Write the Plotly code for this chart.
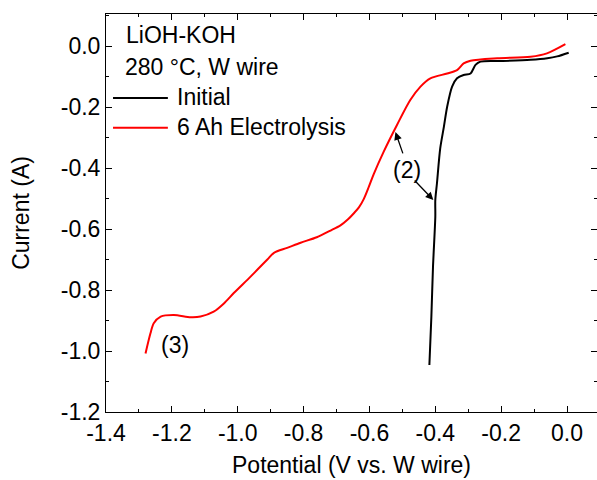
import plotly.graph_objects as go

# ---- data ----
initial_x = [-0.418, -0.412, -0.407, -0.400, -0.400, -0.395, -0.385, -0.374, -0.364,
             -0.349, -0.334, -0.314, -0.293, -0.278, -0.263, -0.200, -0.111, -0.060,
             -0.030, 0.005]
initial_y = [-1.046, -0.888, -0.724, -0.560, -0.505, -0.450, -0.335, -0.265, -0.199,
             -0.133, -0.106, -0.095, -0.090, -0.062, -0.051, -0.049, -0.045, -0.040,
             -0.034, -0.022]

electro_x = [-1.280, -1.265, -1.255, -1.234, -1.194, -1.143, -1.113, -1.073, -1.042,
             -1.012, -0.961, -0.910, -0.890, -0.850, -0.809, -0.760, -0.718, -0.688,
             -0.665, -0.648, -0.632, -0.617, -0.602, -0.587, -0.557, -0.516,
             -0.476, -0.445, -0.415, -0.364, -0.334, -0.314, -0.293, -0.212, -0.111,
             -0.061, -0.005]
electro_y = [-1.008, -0.942, -0.909, -0.887, -0.882, -0.889, -0.887, -0.871, -0.844,
             -0.810, -0.756, -0.700, -0.678, -0.662, -0.645, -0.627, -0.605, -0.588,
             -0.568, -0.549, -0.529, -0.501, -0.462, -0.420, -0.347, -0.258,
             -0.177, -0.133, -0.106, -0.090, -0.079, -0.057, -0.048, -0.040, -0.035,
             -0.024, 0.006]

x_tickvals = [-1.4, -1.2, -1.0, -0.8, -0.6, -0.4, -0.2, 0.0]
x_ticktext = ["-1.4", "-1.2", "-1.0", "-0.8", "-0.6", "-0.4", "-0.2", "0.0"]
y_tickvals = [-1.2, -1.0, -0.8, -0.6, -0.4, -0.2, 0.0]
y_ticktext = ["-1.2", "-1.0", "-0.8", "-0.6", "-0.4", "-0.2", "0.0"]

series_names = ["Initial", "6 Ah Electrolysis"]
series_colors = ["#000000", "#ff0000"]

FONT = "Liberation Sans, Arial, sans-serif"
FS = 23

fig = go.Figure()
fig.add_trace(go.Scatter(x=initial_x, y=initial_y, mode="lines", name=series_names[0],
                         line=dict(color=series_colors[0], width=2, shape="spline", smoothing=0.8)))
fig.add_trace(go.Scatter(x=electro_x, y=electro_y, mode="lines", name=series_names[1],
                         line=dict(color=series_colors[1], width=2, shape="spline", smoothing=0.8)))

axis_common = dict(
    showline=True, linecolor="black", linewidth=1, mirror="allticks",
    ticks="inside", ticklen=6, tickwidth=1, tickcolor="black",
    showgrid=False, zeroline=False,
    tickfont=dict(family=FONT, size=FS, color="black"),
    minor=dict(ticks="inside", ticklen=3, tickwidth=1, tickcolor="black", dtick=0.1, showgrid=False),
)

fig.update_xaxes(range=[-1.4, 0.091], tickmode="array", tickvals=x_tickvals, ticktext=x_ticktext,
                 title=dict(text="Potential (V vs. W wire)", font=dict(family=FONT, size=FS, color="black"),
                            standoff=12),
                 **axis_common)
fig.update_yaxes(range=[-1.2, 0.105], tickmode="array", tickvals=y_tickvals, ticktext=y_ticktext,
                 title=dict(text="Current (A)", font=dict(family=FONT, size=FS, color="black"),
                            standoff=24),
                 **axis_common)

# legend-like block (paper coords)
annots = [
    dict(text="LiOH-KOH", x=0.037, y=0.947, xref="paper", yref="paper", xanchor="left", yanchor="middle",
         showarrow=False, font=dict(family=FONT, size=FS, color="black")),
    dict(text="280 °C, W wire", x=0.035, y=0.866, xref="paper", yref="paper", xanchor="left", yanchor="middle",
         showarrow=False, font=dict(family=FONT, size=FS, color="black")),
    dict(text=series_names[0], x=0.141, y=0.791, xref="paper", yref="paper", xanchor="left", yanchor="middle",
         showarrow=False, font=dict(family=FONT, size=FS, color="black")),
    dict(text=series_names[1], x=0.141, y=0.716, xref="paper", yref="paper", xanchor="left", yanchor="middle",
         showarrow=False, font=dict(family=FONT, size=FS, color="black")),
    # (2) label and arrows
    dict(text="(2)", x=-0.485, y=-0.407, xref="x", yref="y", showarrow=False,
         font=dict(family=FONT, size=FS, color="black")),
    dict(text="", x=-0.521, y=-0.282, ax=-0.497, ay=-0.357, xref="x", yref="y", axref="x", ayref="y",
         showarrow=True, arrowhead=2, arrowsize=1.2, arrowwidth=1.3, arrowcolor="black"),
    dict(text="", x=-0.406, y=-0.505, ax=-0.467, ay=-0.436, xref="x", yref="y", axref="x", ayref="y",
         showarrow=True, arrowhead=2, arrowsize=1.2, arrowwidth=1.3, arrowcolor="black"),
    dict(text="(3)", x=-1.189, y=-0.980, xref="x", yref="y", showarrow=False,
         font=dict(family=FONT, size=FS, color="black")),
]

shapes = [
    dict(type="line", xref="paper", yref="paper", x0=0.0143, x1=0.126, y0=0.789, y1=0.789,
         line=dict(color=series_colors[0], width=2)),
    dict(type="line", xref="paper", yref="paper", x0=0.0143, x1=0.126, y0=0.714, y1=0.714,
         line=dict(color=series_colors[1], width=2)),
]

fig.update_layout(
    width=597, height=480,
    margin=dict(l=106, r=0, t=14, b=68),
    paper_bgcolor="white", plot_bgcolor="white",
    showlegend=False,
    annotations=annots, shapes=shapes,
    font=dict(family=FONT, size=FS, color="black"),
)

fig.write_html("out.html")
